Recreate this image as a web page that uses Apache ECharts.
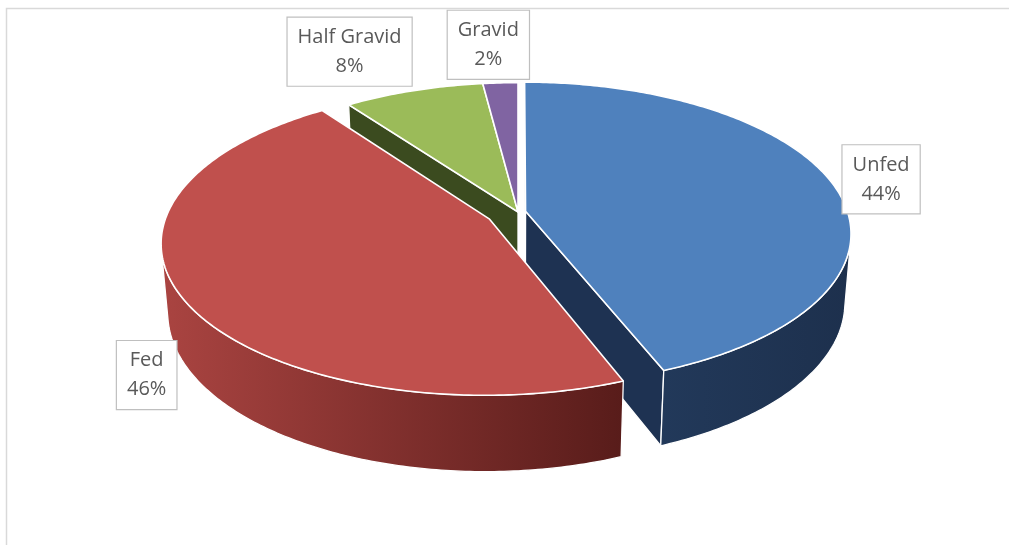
<!DOCTYPE html>
<html>
<head>
<meta charset="utf-8">
<script src="https://cdn.jsdelivr.net/npm/echarts@6/dist/echarts.min.js"></script>
<style>
  html, body { margin: 0; padding: 0; background: #ffffff; }
  #chart { width: 1009px; height: 545px; }
</style>
</head>
<body>
<div id="chart"></div>
<script>
// Feeding status of the collected specimens
const categories = ['Unfed', 'Fed', 'Half Gravid', 'Gravid'];
const shares = [44, 46, 8, 2];

// Camera and solid settings for the tilted pie (radius = 1 world unit)
const VIEW = { cx: 518, cy: 212, k: 322, tilt: 27.4 * Math.PI / 180, dist: 6.1, depth: 0.243 };
const EXPLODE = [0.024, 0.1, 0, 0];
const TOP_COLORS = ['#4F81BD', '#C0504D', '#9BBB59', '#8064A2'];
const WALL_COLORS = [['#22395A', '#1D304D'], ['#AA4441', '#581C1A'], ['#45562A', '#3A4A1E'], ['#5A4675', '#4A3A60']];
const SIDE_COLORS = ['#1E3252', '#7A2E2C', '#3B4B1F', '#4B3A63'];
const LABEL_SHIFT = [[48, -5], [-35, 78], [-64, -39], [-12, -38]];

function toView(x, y, z) {
  const c = Math.cos(VIEW.tilt), s = Math.sin(VIEW.tilt);
  return [x, y * c + z * s, z * c - y * s];
}
function project(x, y, z) {
  const v = toView(x, y, z);
  const f = VIEW.dist / (VIEW.dist + v[2]);
  return [VIEW.cx + VIEW.k * f * v[0], VIEW.cy - VIEW.k * f * v[1]];
}
function facing(p, n) {
  const pv = toView(p[0], p[1], p[2]);
  const nv = toView(n[0], n[1], n[2]);
  return nv[0] * (0 - pv[0]) + nv[1] * (0 - pv[1]) + nv[2] * (-VIEW.dist - pv[2]) > 0;
}

function buildPie(values) {
  const total = values.reduce((a, b) => a + b, 0);
  const h = VIEW.depth;
  let acc = 0;
  const slices = values.map((v, i) => {
    const a0 = acc / total * 2 * Math.PI;
    acc += v;
    const a1 = acc / total * 2 * Math.PI;
    const mid = (a0 + a1) / 2;
    const ox = EXPLODE[i] * Math.sin(mid), oz = EXPLODE[i] * Math.cos(mid);
    const rim = (a, y) => [ox + Math.sin(a), y, oz + Math.cos(a)];
    const steps = Math.max(6, Math.ceil((a1 - a0) / (Math.PI / 240)));
    const angles = [];
    for (let j = 0; j <= steps; j++) angles.push(a0 + (a1 - a0) * j / steps);

    const topPts = [project(ox, 0, oz)].concat(angles.map(a => project(...rim(a, 0))));
    const faces = [];

    // outer curved wall, split into the runs that face the camera
    let run = [];
    const flush = () => {
      if (run.length > 1) {
        const upper = run.map(a => project(...rim(a, 0)));
        const lower = run.slice().reverse().map(a => project(...rim(a, -h)));
        let d = 0;
        run.forEach(a => { const p = rim(a, -h / 2); d += toView(p[0], p[1], p[2])[2]; });
        faces.push({ kind: 'wall', pts: upper.concat(lower), depth: d / run.length });
      }
      run = [];
    };
    angles.forEach(a => {
      if (facing(rim(a, -h / 2), [Math.sin(a), 0, Math.cos(a)])) run.push(a); else flush();
    });
    flush();

    // flat cut faces along the two radii
    [[a0, [-Math.cos(a0), 0, Math.sin(a0)]], [a1, [Math.cos(a1), 0, -Math.sin(a1)]]].forEach(([a, n]) => {
      const m = [ox + 0.5 * Math.sin(a), -h / 2, oz + 0.5 * Math.cos(a)];
      if (facing(m, n)) {
        faces.push({
          kind: 'side',
          pts: [project(ox, 0, oz), project(...rim(a, 0)), project(...rim(a, -h)), project(ox, -h, oz)],
          depth: toView(m[0], m[1], m[2])[2]
        });
      }
    });
    return { a0, a1, mid, ox, oz, topPts, faces, pct: Math.round(v / total * 100) + '%' };
  });

  const all = [];
  slices.forEach(s => s.faces.forEach(f => all.push(f)));
  all.sort((p, q) => q.depth - p.depth);
  all.forEach((f, r) => { f.z2 = r + 1; });
  return slices;
}

const pie = buildPie(shares);

function renderSlice(params, api) {
  const i = params.dataIndex;
  const s = pie[i];
  const children = [];
  s.faces.forEach(f => {
    const fill = f.kind === 'wall'
      ? new echarts.graphic.LinearGradient(0, 0, 1, 0, [
          { offset: 0, color: WALL_COLORS[i][0] },
          { offset: 1, color: WALL_COLORS[i][1] }
        ])
      : SIDE_COLORS[i];
    children.push({
      type: 'polygon', z2: f.z2,
      shape: { points: f.pts },
      style: { fill: fill, stroke: '#FFFFFF', lineWidth: 1.3, lineJoin: 'round' }
    });
  });
  children.push({
    type: 'polygon', z2: 100,
    shape: { points: s.topPts },
    style: { fill: TOP_COLORS[i], stroke: '#FFFFFF', lineWidth: 1.6, lineJoin: 'round' }
  });
  const anchor = project(s.ox + Math.sin(s.mid), 0, s.oz + Math.cos(s.mid));
  children.push({
    type: 'text', z2: 200,
    x: anchor[0] + LABEL_SHIFT[i][0],
    y: anchor[1] + LABEL_SHIFT[i][1],
    style: {
      text: api.value(0) !== undefined ? categories[i] + '\n' + s.pct : '',
      fill: '#595959',
      font: '20px "Open Sans"',
      align: 'center',
      verticalAlign: 'middle',
      lineHeight: 29,
      backgroundColor: '#FFFFFF',
      borderColor: '#BFBFBF',
      borderWidth: 1.2,
      padding: [5, 10]
    }
  });
  return { type: 'group', children: children };
}

const chart = echarts.init(document.getElementById('chart'), null, { renderer: 'canvas' });
chart.setOption({
  animation: false,
  backgroundColor: '#FFFFFF',
  graphic: [{
    type: 'rect', silent: true, z: -10,
    shape: { x: 6.5, y: 8.5, width: 1200, height: 800 },
    style: { fill: 'none', stroke: '#D9D9D9', lineWidth: 1.5 }
  }],
  series: [{
    type: 'custom',
    coordinateSystem: 'none',
    data: shares.map((v, i) => ({ name: categories[i], value: [v] })),
    renderItem: renderSlice
  }]
});
</script>
</body>
</html>
